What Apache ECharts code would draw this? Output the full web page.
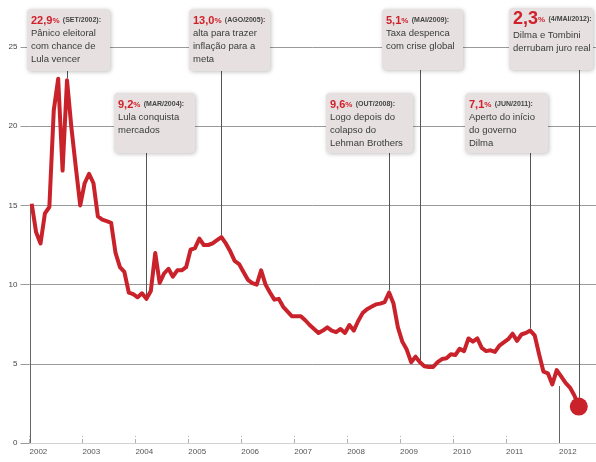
<!DOCTYPE html>
<html><head><meta charset="utf-8">
<script src="https://cdn.jsdelivr.net/npm/echarts@6/dist/echarts.min.js"></script>
<style>html,body{margin:0;padding:0;background:#fff}#c{width:596px;height:462px}</style>
</head><body><div id="c"></div>
<script>
// ---- data ----
const startYear = 2002;               // first month = Jan 2002, monthly values
const yearTicks = [2002, 2003, 2004, 2005, 2006, 2007, 2008, 2009, 2010, 2011, 2012];
const yTicks = [0, 5, 10, 15, 20, 25];
const rate2002 = [15.1, 13.3, 12.6, 14.5, 14.9, 21.0, 23.0, 17.2, 22.9, 19.9, 17.4, 15.0];
const rate2003 = [16.4, 17.0, 16.4, 14.3, 14.1, 14.0, 13.9, 12.0, 11.1, 10.8, 9.5, 9.4];
const rate2004 = [9.2, 9.45, 9.1, 9.6, 12.0, 10.1, 10.7, 11.0, 10.5, 10.9, 10.9, 11.1];
const rate2005 = [12.2, 12.3, 12.9, 12.5, 12.5, 12.6, 12.8, 13.0, 12.6, 12.1, 11.5, 11.3];
const rate2006 = [10.8, 10.3, 10.1, 10.0, 10.9, 10.0, 9.5, 9.05, 9.1, 8.6, 8.3, 8.0];
const rate2007 = [8.0, 8.0, 7.75, 7.45, 7.2, 6.95, 7.1, 7.3, 7.1, 7.0, 7.2, 6.95];
const rate2008 = [7.45, 7.1, 7.7, 8.2, 8.45, 8.6, 8.75, 8.8, 8.9, 9.5, 8.8, 7.3];
const rate2009 = [6.4, 5.9, 5.1, 5.45, 5.1, 4.85, 4.8, 4.8, 5.1, 5.3, 5.35, 5.6];
const rate2010 = [5.55, 5.95, 5.8, 6.6, 6.4, 6.6, 6.0, 5.8, 5.85, 5.75, 6.15, 6.35];
const rate2011 = [6.55, 6.9, 6.45, 6.85, 6.95, 7.1, 6.8, 5.6, 4.5, 4.4, 3.7, 4.6];
const rate2012 = [4.2, 3.8, 3.5, 3.0, 2.3];

const annMonth = ['2002-09', '2005-08', '2004-03', '2009-05', '2012-05', '2008-10', '2011-06'];
const annPct   = ['22,9', '13,0', '9,2', '5,1', '2,3', '9,6', '7,1'];
const annTag   = ['(SET/2002):', '(AGO/2005):', '(MAR/2004):', '(MAI/2009):', '(4/MAI/2012):', '(OUT/2008):', '(JUN/2011):'];
const annText  = [
  ['Pânico eleitoral', 'com chance de', 'Lula vencer'],
  ['alta para trazer', 'inflação para a', 'meta'],
  ['Lula conquista', 'mercados'],
  ['Taxa despenca', 'com crise global'],
  ['Dilma e Tombini', 'derrubam juro real'],
  ['Logo depois do', 'colapso do', 'Lehman Brothers'],
  ['Aperto do início', 'do governo', 'Dilma']
];
// reference drop lines to the axis: [decimal year, value]
const dropLines = [[2002.0, 15.1], [2012.0, 3.6]];

// ---- layout (pixels) ----
const boxLayout = [
  [27, 9, 83, 62], [189, 9, 81, 62], [114, 93, 81, 60], [382, 9, 81, 61],
  [509, 8, 84, 62], [326, 93, 87, 60], [465, 93, 83, 60]
];
const bigPct = [false, false, false, false, true, false, false];

const rate = [].concat(rate2002, rate2003, rate2004, rate2005, rate2006, rate2007,
  rate2008, rate2009, rate2010, rate2011, rate2012);
const lineData = rate.map((v, i) => [startYear + (i + 0.5) / 12, v]);
const last = lineData[lineData.length - 1];
function monthIndex(s) { const p = s.split('-').map(Number); return (p[0] - startYear) * 12 + p[1] - 1; }

const RED = '#c9222b';
const chart = echarts.init(document.getElementById('c'));
chart.setOption({
  animation: false,
  backgroundColor: '#fff',
  grid: { left: 29.5, right: 0, top: 47, bottom: 19, containLabel: false },
  xAxis: {
    type: 'value', min: yearTicks[0], max: 2012.7, interval: 1,
    axisLine: { show: true, lineStyle: { color: '#d2d2d2', width: 1 } },
    axisTick: { show: true, inside: true, length: 7, lineStyle: { color: '#b0b0b0', type: 'dashed' } },
    axisLabel: {
      fontSize: 8, color: '#555', fontFamily: 'Liberation Sans', align: 'left', margin: 5,
      showMaxLabel: false,
      formatter: v => (Math.abs(v - Math.round(v)) < 1e-6 && yearTicks.indexOf(Math.round(v)) >= 0) ? String(Math.round(v)) : ''
    },
    splitLine: { show: false }
  },
  yAxis: {
    type: 'value', min: yTicks[0], max: yTicks[yTicks.length - 1], interval: 5,
    axisLine: { show: false },
    axisTick: { show: true, length: 9, lineStyle: { color: '#9a9a9a' } },
    axisLabel: { fontSize: 8, color: '#444', fontFamily: 'Liberation Sans', margin: 12 },
    splitLine: { show: true, lineStyle: { color: '#9a9a9a', width: 1 } }
  },
  series: [
    {
      type: 'line', data: lineData, symbol: 'none', z: 3,
      lineStyle: { color: RED, width: 4, join: 'round' }
    },
    {
      type: 'scatter', data: [last], symbolSize: 18, z: 4,
      itemStyle: { color: RED, opacity: 1 }
    }
  ]
});

// ---- annotations ----
const graphics = [];
dropLines.forEach(d => {
  const p0 = chart.convertToPixel({ gridIndex: 0 }, [d[0], 0]);
  const p1 = chart.convertToPixel({ gridIndex: 0 }, [d[0], d[1]]);
  graphics.push({ type: 'line', z: 1, silent: true,
    shape: { x1: Math.round(p0[0]) + 0.5, y1: p0[1], x2: Math.round(p0[0]) + 0.5, y2: p1[1] },
    style: { stroke: '#666', lineWidth: 1 } });
});
annMonth.forEach((m, k) => {
  const idx = monthIndex(m);
  const pt = chart.convertToPixel({ gridIndex: 0 }, lineData[idx]);
  const b = boxLayout[k];
  const x = Math.round(pt[0]) + 0.5;
  graphics.push({ type: 'line', z: 1, silent: true,
    shape: { x1: x, y1: b[1] + b[3], x2: x, y2: pt[1] - 2 },
    style: { stroke: '#555', lineWidth: 1 } });
  graphics.push({ type: 'rect', z: 10, silent: true,
    shape: { x: b[0], y: b[1], width: b[2], height: b[3], r: 4 },
    style: { fill: '#e6e0e0', shadowBlur: 4, shadowColor: 'rgba(0,0,0,0.25)', shadowOffsetX: 1, shadowOffsetY: 1 } });
  const head = bigPct[k]
    ? '{P|' + annPct[k] + '}{pc|%} {t|' + annTag[k] + '}'
    : '{p|' + annPct[k] + '}{pc|%} {t|' + annTag[k] + '}';
  const txt = head + '\n' + annText[k].map(s => '{b|' + s + '}').join('\n');
  graphics.push({ type: 'text', z: 11, silent: true,
    x: b[0] + 4, y: b[1] + (bigPct[k] ? 2 : 5),
    style: {
      text: txt, fontFamily: 'Liberation Sans',
      rich: {
        p: { fontSize: 11, fontWeight: 'bold', fill: '#d0202a', lineHeight: 13, fontFamily: 'Liberation Sans' },
        P: { fontSize: 18, fontWeight: 'bold', fill: '#d0202a', lineHeight: 19, fontFamily: 'Liberation Sans' },
        pc: { fontSize: 8, fontWeight: 'bold', fill: '#d0202a', lineHeight: 13, fontFamily: 'Liberation Sans' },
        t: { fontSize: 7, fontWeight: 'bold', fill: '#444', lineHeight: 13, fontFamily: 'Liberation Sans' },
        b: { fontSize: 9.5, fill: '#3a3a3a', lineHeight: 13, fontFamily: 'Liberation Sans' }
      }
    } });
});
chart.setOption({ graphic: graphics });
</script>
</body></html>
